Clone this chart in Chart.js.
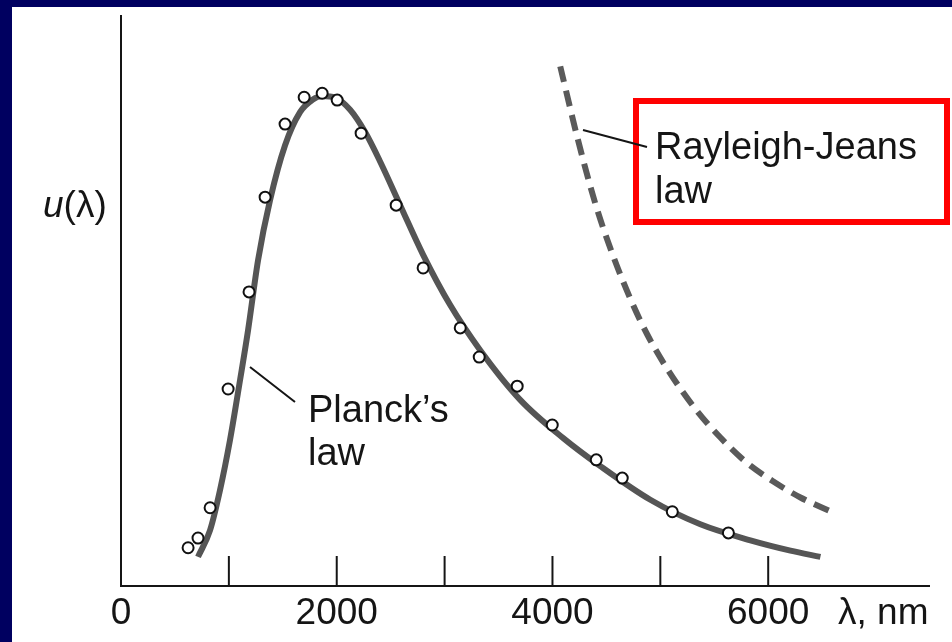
<!DOCTYPE html>
<html>
<head>
<meta charset="utf-8">
<title>Planck vs Rayleigh-Jeans</title>
<script src="https://cdn.jsdelivr.net/npm/chart.js@4.4.1/dist/chart.umd.min.js"></script>
<style>
    html, body { margin: 0; padding: 0; background: #000060; }
    #wrap { width: 952px; height: 642px; position: relative; }
</style>
</head>
<body>
<div id="wrap"><canvas id="radChart" width="952" height="642"></canvas></div>
<script>
// data (x = panjang gelombang nm, y = u(lambda) unit bebas)
const planckX = [714, 826, 918, 1011, 1104, 1178, 1271, 1382, 1521, 1660, 1772, 1865, 1985, 2124, 2263, 2403, 2588, 2801, 3052, 3330, 3701, 4100, 4443, 4907, 5371, 5835, 6206, 6484];
const planckY = [5.1, 9.8, 16.8, 25.6, 36.1, 44.8, 57.1, 67.6, 77.2, 83.0, 85.1, 85.8, 85.5, 83.4, 79.5, 74.3, 66.7, 58.0, 49.2, 41.3, 32.6, 25.9, 21.0, 15.1, 10.8, 8.0, 6.2, 5.1];

const measuredX = [622, 714, 826, 993, 1187, 1336, 1521, 1698, 1865, 2004, 2226, 2551, 2801, 3145, 3321, 3673, 3998, 4406, 4647, 5111, 5631];
const measuredY = [6.7, 8.4, 13.7, 34.5, 51.5, 68.1, 80.9, 85.6, 86.3, 85.1, 79.3, 66.7, 55.7, 45.2, 40.1, 35.0, 28.2, 22.1, 18.9, 13.0, 9.3];

const rjX = [4072, 4230, 4397, 4555, 4720, 4880, 5065, 5325, 5557, 5788, 6048, 6299, 6596];
const rjY = [91.0, 78.6, 67.0, 58.2, 50.4, 44.0, 38.0, 31.0, 26.0, 21.8, 18.3, 15.5, 12.9];

const tickValues = [1000, 2000, 3000, 4000, 5000, 6000];
const tickLabels = ['0', '2000', '4000', '6000'];

function toPoints(xs, ys) {
    return xs.map((x, i) => ({ x: x, y: ys[i] }));
}

const FONT = '"Liberation Sans", Arial, Helvetica, sans-serif';
const INK = '#151515';

// background + panel putih
const backgroundPlugin = {
    id: 'bg',
    beforeDraw(chart) {
        const ctx = chart.ctx;
        ctx.save();
        ctx.fillStyle = '#000060';
        ctx.fillRect(0, 0, chart.width, chart.height);
        ctx.fillStyle = '#ffffff';
        ctx.fillRect(12, 7, chart.width - 12, chart.height - 7);
        ctx.restore();
    }
};

// paksi, tick ke dalam, label
const axesPlugin = {
    id: 'axes',
    beforeDatasetsDraw(chart) {
        const ctx = chart.ctx;
        const xs = chart.scales.x;
        const ys = chart.scales.y;
        const x0 = xs.getPixelForValue(0);
        const y0 = ys.getPixelForValue(0);
        ctx.save();
        ctx.strokeStyle = INK;
        ctx.lineWidth = 2;
        ctx.beginPath();
        ctx.moveTo(x0, ys.getPixelForValue(ys.max));
        ctx.lineTo(x0, y0);
        ctx.lineTo(xs.getPixelForValue(xs.max), y0);
        ctx.stroke();

        tickValues.forEach(v => {
            const px = xs.getPixelForValue(v);
            ctx.beginPath();
            ctx.moveTo(px, y0);
            ctx.lineTo(px, y0 - 30);
            ctx.stroke();
        });

        ctx.fillStyle = INK;
        ctx.font = '37px ' + FONT;
        ctx.textAlign = 'center';
        ctx.textBaseline = 'alphabetic';
        tickLabels.forEach(t => {
            ctx.fillText(t, xs.getPixelForValue(Number(t)), 624);
        });
        ctx.textAlign = 'left';
        ctx.fillText('\u03bb, nm', 838, 624);

        // label paksi y
        ctx.font = 'italic 37px ' + FONT;
        ctx.fillText('u', 43, 217);
        const uw = ctx.measureText('u').width;
        ctx.font = '37px ' + FONT;
        ctx.fillText('(\u03bb)', 43 + uw, 217);
        ctx.restore();
    },
    afterDatasetsDraw(chart) {
        const ctx = chart.ctx;
        ctx.save();
        // kotak merah
        ctx.strokeStyle = '#ff0000';
        ctx.lineWidth = 6;
        ctx.strokeRect(636, 101, 311, 121);

        // garis penunjuk
        ctx.strokeStyle = INK;
        ctx.lineWidth = 2;
        ctx.beginPath();
        ctx.moveTo(583, 130);
        ctx.lineTo(647, 147);
        ctx.moveTo(250, 367);
        ctx.lineTo(295, 402);
        ctx.stroke();

        ctx.fillStyle = INK;
        ctx.font = '38px ' + FONT;
        ctx.textAlign = 'left';
        ctx.fillText('Rayleigh-Jeans', 655, 159);
        ctx.fillText('law', 655, 203);
        ctx.fillText('Planck\u2019s', 308, 422);
        ctx.fillText('law', 308, 465);
        ctx.restore();
    }
};

new Chart(document.getElementById('radChart'), {
    type: 'scatter',
    data: {
        datasets: [
            {
                label: 'Measured',
                data: toPoints(measuredX, measuredY),
                pointRadius: 5.5,
                pointBorderWidth: 2,
                pointBackgroundColor: '#ffffff',
                pointBorderColor: '#111111',
                showLine: false,
                order: 0
            },
            {
                label: "Planck's law",
                data: toPoints(planckX, planckY),
                showLine: true,
                borderColor: '#555555',
                borderWidth: 6,
                pointRadius: 0,
                cubicInterpolationMode: 'monotone',
                order: 1
            },
            {
                label: 'Rayleigh-Jeans law',
                data: toPoints(rjX, rjY),
                showLine: true,
                borderColor: '#5a5a5a',
                borderWidth: 6,
                borderDash: [16, 9],
                pointRadius: 0,
                cubicInterpolationMode: 'monotone',
                order: 2
            }
        ]
    },
    options: {
        responsive: false,
        animation: false,
        layout: {
            padding: { left: 121, right: 22, top: 15, bottom: 56 }
        },
        scales: {
            x: { type: 'linear', min: 0, max: 7500, display: false },
            y: { type: 'linear', min: 0, max: 100, display: false }
        },
        plugins: {
            legend: { display: false },
            tooltip: { enabled: false }
        }
    },
    plugins: [backgroundPlugin, axesPlugin]
});
</script>
</body>
</html>
